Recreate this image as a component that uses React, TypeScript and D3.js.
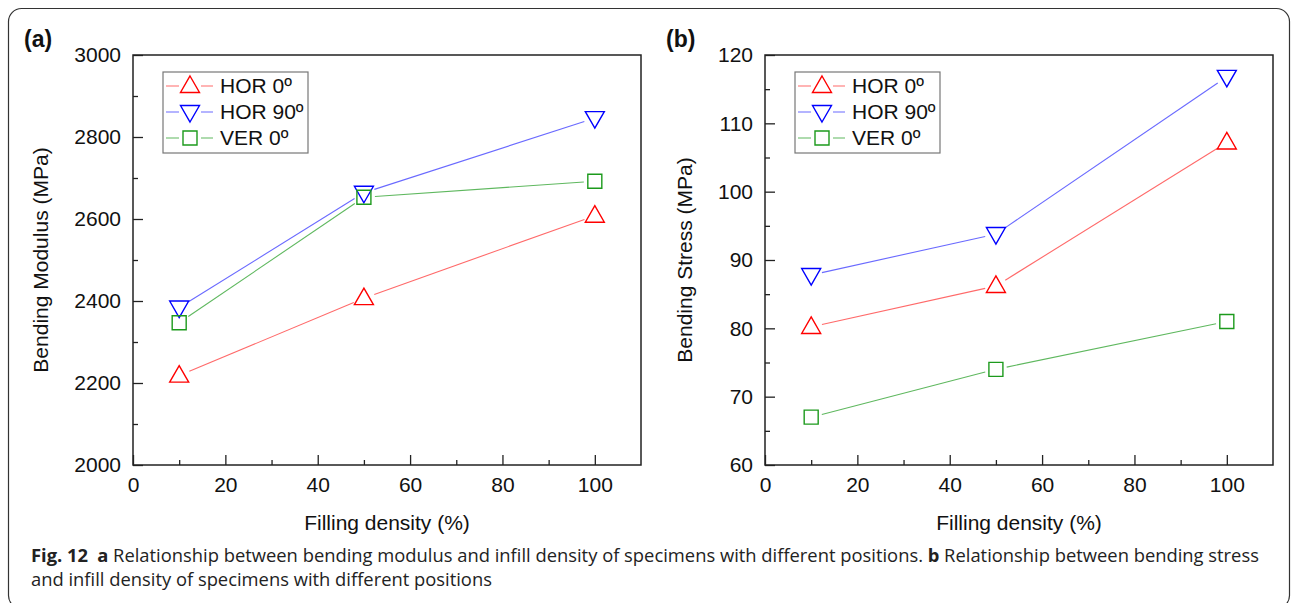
import React, { useEffect, useRef } from 'react';
import * as d3 from 'd3';

// filling density (%) on the x axis
const density = [10, 50, 100];
const seriesNames = ['HOR 0º', 'HOR 90º', 'VER 0º'];

// (a) bending modulus, MPa
const modulusHor0 = [2218, 2407, 2608];
const modulusHor90 = [2384, 2664, 2846];
const modulusVer0 = [2347, 2653, 2692];

// (b) bending stress, MPa
const stressHor0 = [80.2, 86.2, 107.2];
const stressHor90 = [87.8, 93.8, 116.8];
const stressVer0 = [67, 74, 81];

const xTicks = [0, 20, 40, 60, 80, 100];
const xMinor = [10, 30, 50, 70, 90];
const modulusTicks = [2000, 2200, 2400, 2600, 2800, 3000];
const modulusMinor = [2100, 2300, 2500, 2700, 2900];
const stressTicks = [60, 70, 80, 90, 100, 110, 120];
const stressMinor = [65, 75, 85, 95, 105, 115];

const markerColors = ['#ff0000', '#0000ff', '#1c9a1c'];
const lineColors = ['#ff6a6a', '#6a6aff', '#5fb85f'];
const symbols = ['up', 'down', 'square'];

const FONT = '"Liberation Sans", Arial, sans-serif';
const FS = 21;

function markerPath(kind: string) {
  if (kind === 'up') return 'M0,-10L9.5,6.5L-9.5,6.5Z';
  if (kind === 'down') return 'M0,10L9.5,-6.5L-9.5,-6.5Z';
  return 'M-7,-7H7V7H-7Z';
}

function drawPanel(svg: any, p: any) {
  const x = d3.scaleLinear().domain([0, 110]).range([p.left, p.right]);
  const y = d3.scaleLinear().domain(p.yDomain).range([p.bottom, p.top]);
  const g = svg.append('g');

  // axes, ticks pointing inwards
  const xAxis = g.append('g').attr('transform', `translate(0,${p.bottom})`)
    .call(d3.axisBottom(x).tickValues(xTicks).tickSizeInner(-10).tickSizeOuter(0).tickPadding(12));
  g.append('g').attr('transform', `translate(0,${p.bottom})`)
    .call(d3.axisBottom(x).tickValues(xMinor).tickSizeInner(-5).tickSizeOuter(0).tickFormat(() => ''));
  const yAxis = g.append('g').attr('transform', `translate(${p.left},0)`)
    .call(d3.axisLeft(y).tickValues(p.ticks).tickSizeInner(-10).tickSizeOuter(0).tickPadding(12)
      .tickFormat(d3.format('d')));
  g.append('g').attr('transform', `translate(${p.left},0)`)
    .call(d3.axisLeft(y).tickValues(p.minor).tickSizeInner(-5).tickSizeOuter(0).tickFormat(() => ''));
  g.selectAll('.domain').remove();
  g.selectAll('.tick line').attr('stroke', '#222').attr('stroke-width', 1.3);
  [xAxis, yAxis].forEach((a) => a.attr('font-family', FONT).attr('font-size', FS)
    .selectAll('text').attr('fill', '#111'));

  // frame
  g.append('rect')
    .attr('x', p.left).attr('y', p.top)
    .attr('width', p.right - p.left).attr('height', p.bottom - p.top)
    .attr('fill', 'none').attr('stroke', '#222').attr('stroke-width', 1.5);

  // axis titles
  g.append('text')
    .attr('x', (p.left + p.right) / 2).attr('y', 530)
    .attr('text-anchor', 'middle').attr('font-family', FONT).attr('font-size', FS).attr('fill', '#111')
    .text('Filling density (%)');
  g.append('text')
    .attr('transform', `translate(${p.ylabelX},${(p.top + p.bottom) / 2}) rotate(-90)`)
    .attr('text-anchor', 'middle').attr('font-family', FONT).attr('font-size', FS).attr('fill', '#111')
    .text(p.ylabel);
  g.append('text')
    .attr('x', p.tagX).attr('y', 47)
    .attr('font-family', FONT).attr('font-size', 23).attr('font-weight', 'bold').attr('fill', '#111')
    .text(p.tag);

  // series: lines stop short of the markers
  const gap = 11;
  p.series.forEach((vals: number[], s: number) => {
    const pts = vals.map((v, i) => [x(density[i]), y(v)]);
    for (let i = 0; i < pts.length - 1; i++) {
      const [x0, y0] = pts[i];
      const [x1, y1] = pts[i + 1];
      const len = Math.hypot(x1 - x0, y1 - y0);
      const ux = (x1 - x0) / len;
      const uy = (y1 - y0) / len;
      g.append('line')
        .attr('x1', x0 + ux * gap).attr('y1', y0 + uy * gap)
        .attr('x2', x1 - ux * gap).attr('y2', y1 - uy * gap)
        .attr('stroke', lineColors[s]).attr('stroke-width', 1.1);
    }
    g.selectAll(null).data(pts).join('path')
      .attr('d', markerPath(symbols[s]))
      .attr('transform', (d: number[]) => `translate(${d[0]},${d[1]})`)
      .attr('fill', 'none').attr('stroke', markerColors[s]).attr('stroke-width', 1.4);
  });

  // legend
  const lx = p.left + 30;
  const lg = g.append('g');
  lg.append('rect')
    .attr('x', lx).attr('y', 72).attr('width', 145).attr('height', 81)
    .attr('fill', '#fff').attr('stroke', '#777').attr('stroke-width', 1.2);
  seriesNames.forEach((name, s) => {
    const cy = 86 + s * 26;
    lg.append('line').attr('x1', lx + 3).attr('x2', lx + 50).attr('y1', cy).attr('y2', cy)
      .attr('stroke', lineColors[s]).attr('stroke-width', 1.1);
    lg.append('rect').attr('x', lx + 16).attr('y', cy - 11).attr('width', 22).attr('height', 22).attr('fill', '#fff');
    lg.append('path').attr('d', markerPath(symbols[s]))
      .attr('transform', `translate(${lx + 27},${cy})`)
      .attr('fill', 'none').attr('stroke', markerColors[s]).attr('stroke-width', 1.4);
    lg.append('text').attr('x', lx + 57).attr('y', cy + 7)
      .attr('font-family', FONT).attr('font-size', FS).attr('fill', '#111')
      .text(name);
  });
}

export default function App() {
  const svgRef = useRef<SVGSVGElement>(null);

  useEffect(() => {
    const svg = d3.select(svgRef.current);
    svg.selectAll('*').remove();

    // rounded figure frame
    svg.append('rect')
      .attr('x', 8.5).attr('y', 8.5).attr('width', 1281).attr('height', 600).attr('rx', 13)
      .attr('fill', '#fff').attr('stroke', '#333').attr('stroke-width', 1.2);

    drawPanel(svg, {
      left: 133, right: 641, top: 55, bottom: 465,
      yDomain: [2000, 3000], ticks: modulusTicks, minor: modulusMinor,
      ylabel: 'Bending Modulus (MPa)', ylabelX: 48, tag: '(a)', tagX: 24,
      series: [modulusHor0, modulusHor90, modulusVer0],
    });
    drawPanel(svg, {
      left: 765, right: 1273, top: 55, bottom: 465,
      yDomain: [60, 120], ticks: stressTicks, minor: stressMinor,
      ylabel: 'Bending Stress (MPa)', ylabelX: 692, tag: '(b)', tagX: 666,
      series: [stressHor0, stressHor90, stressVer0],
    });

    // caption, condensed horizontally so the first line fits the frame
    const cap = '"Myriad Pro", "Open Sans", "Noto Sans", sans-serif';
    const cg = svg.append('g');
    const t1 = cg.append('text').attr('x', 0).attr('y', 562)
      .attr('font-family', cap).attr('font-size', 18).attr('fill', '#222');
    t1.append('tspan').attr('font-weight', 'bold').text('Fig. 12');
    t1.append('tspan').text('\u2002');
    t1.append('tspan').attr('font-weight', 'bold').text('a');
    t1.append('tspan').text(' Relationship between bending modulus and infill density of specimens with different positions. ');
    t1.append('tspan').attr('font-weight', 'bold').text('b');
    t1.append('tspan').text(' Relationship between bending stress');
    cg.append('text').attr('x', 0).attr('y', 586)
      .attr('font-family', cap).attr('font-size', 18).attr('fill', '#222')
      .text('and infill density of specimens with different positions');
    const natural = (t1.node() as SVGTextElement).getComputedTextLength() || 1229;
    cg.attr('transform', `translate(31,0) scale(${1229 / natural},1)`);
  }, []);

  return (
    <svg ref={svgRef} width={1292} height={603}
      style={{ position: 'absolute', left: 0, top: 0, background: '#fff' }} />
  );
}
